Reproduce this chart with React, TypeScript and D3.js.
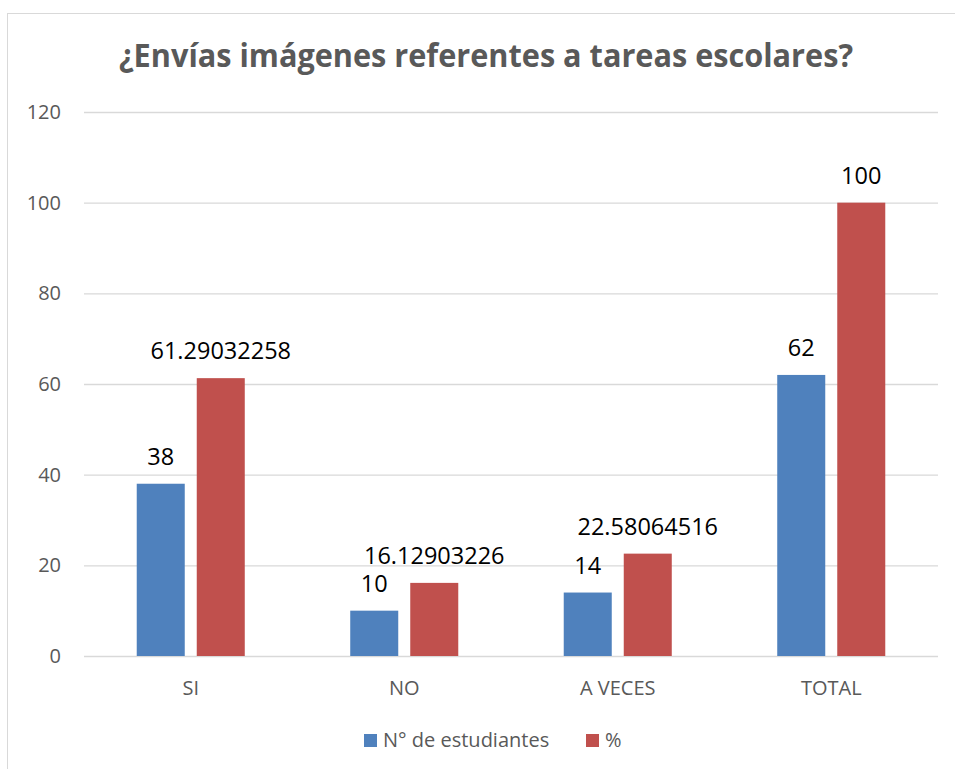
import React, { useEffect, useRef } from 'react';
import * as d3 from 'd3';

const categories = ['SI', 'NO', 'A VECES', 'TOTAL'];
const seriesNames = ['N° de estudiantes', '%'];
const estudiantes = [38, 10, 14, 62];
const porcentaje = [61.29032258, 16.12903226, 22.58064516, 100];
const yTicks = [0, 20, 40, 60, 80, 100, 120];
const colors = ['#4f81bd', '#c0504d'];

const width = 955;
const height = 769;
const font = '"Open Sans", sans-serif';

function App() {
  const ref = useRef<SVGSVGElement>(null);

  useEffect(() => {
    const svg = d3.select(ref.current);
    svg.selectAll('*').remove();

    // chart frame (runs off the right/bottom like the original screenshot)
    svg.append('rect')
      .attr('x', 7.5).attr('y', 13.5)
      .attr('width', 965).attr('height', 780)
      .attr('fill', '#fff')
      .attr('stroke', '#d9d9d9');

    svg.append('text')
      .attr('x', 486).attr('y', 67)
      .attr('text-anchor', 'middle')
      .attr('font-family', font)
      .attr('font-weight', 'bold')
      .attr('font-size', 32)
      .attr('fill', '#595959')
      .attr('textLength', 734)
      .attr('lengthAdjust', 'spacingAndGlyphs')
      .text('¿Envías imágenes referentes a tareas escolares?');

    const x0 = d3.scaleBand()
      .domain(categories)
      .range([84, 938])
      .paddingInner(0.494)
      .paddingOuter(0.247);

    const x1 = d3.scaleBand()
      .domain(seriesNames)
      .range([0, x0.bandwidth()])
      .paddingInner(0.2);

    const y = d3.scaleLinear().domain([0, 120]).range([656, 112]);

    // gridlines
    svg.append('g')
      .selectAll('line')
      .data(yTicks)
      .enter()
      .append('line')
      .attr('x1', 84).attr('x2', 938)
      .attr('y1', d => y(d) + 0.5).attr('y2', d => y(d) + 0.5)
      .attr('stroke', '#d9d9d9')
      .attr('stroke-width', 1.3);

    svg.append('g')
      .selectAll('text')
      .data(yTicks)
      .enter()
      .append('text')
      .attr('x', 61)
      .attr('y', d => y(d))
      .attr('dy', '0.35em')
      .attr('text-anchor', 'end')
      .attr('font-family', font)
      .attr('font-size', 20)
      .attr('fill', '#595959')
      .text(d => d);

    const rows = categories.map((c, i) => ({
      cat: c,
      values: [estudiantes[i], porcentaje[i]],
    }));

    const groups = svg.append('g')
      .selectAll('g')
      .data(rows)
      .enter()
      .append('g')
      .attr('transform', d => `translate(${x0(d.cat)},0)`);

    const bars = groups.selectAll('g')
      .data(d => d.values.map((v, j) => ({ name: seriesNames[j], v, j })))
      .enter()
      .append('g');

    bars.append('rect')
      .attr('x', d => x1(d.name) as number)
      .attr('y', d => y(d.v))
      .attr('width', x1.bandwidth())
      .attr('height', d => y(0) - y(d.v))
      .attr('fill', d => colors[d.j]);

    bars.append('text')
      .attr('x', d => (x1(d.name) as number) + x1.bandwidth() / 2)
      .attr('y', d => y(d.v) - 19)
      .attr('text-anchor', 'middle')
      .attr('font-family', font)
      .attr('font-size', 23.5)
      .attr('fill', '#000')
      .text(d => String(d.v));

    // category labels
    svg.append('g')
      .selectAll('text')
      .data(categories)
      .enter()
      .append('text')
      .attr('x', d => (x0(d) as number) + x0.bandwidth() / 2)
      .attr('y', 695)
      .attr('text-anchor', 'middle')
      .attr('font-family', font)
      .attr('font-size', 20)
      .attr('fill', '#595959')
      .text(d => d);

    // legend
    const legendX = [364, 586];
    const legend = svg.append('g')
      .selectAll('g')
      .data(seriesNames)
      .enter()
      .append('g')
      .attr('transform', (d, i) => `translate(${legendX[i]},734)`);

    legend.append('rect')
      .attr('width', 13).attr('height', 13)
      .attr('fill', (d, i) => colors[i]);

    legend.append('text')
      .attr('x', 19).attr('y', 13)
      .attr('font-family', font)
      .attr('font-size', 20)
      .attr('fill', '#595959')
      .text(d => d);
  }, []);

  return (
    <svg ref={ref} width={width} height={height}
      style={{ position: 'absolute', left: 0, top: 0, background: '#fff' }} />
  );
}

export default App;
